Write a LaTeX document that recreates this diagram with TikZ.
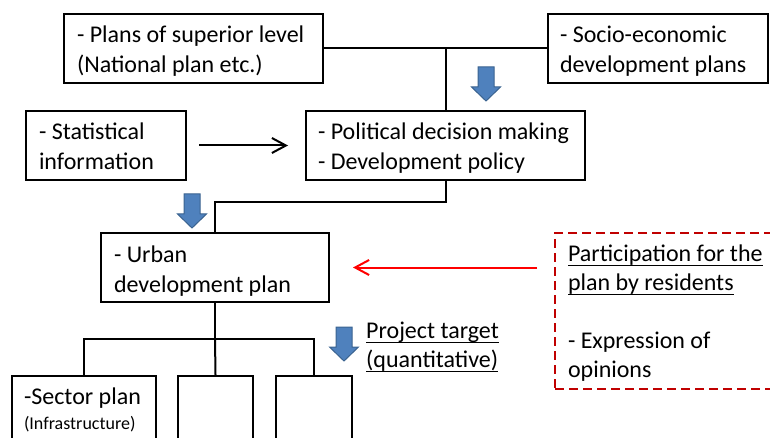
\documentclass[tikz,border=0pt]{standalone}
\usepackage{fontspec}
\setmainfont{Carlito}
\usetikzlibrary{arrows.meta}

\definecolor{arrowblue}{HTML}{4F81BD}
\definecolor{arrowedge}{HTML}{3A6390}
\definecolor{dashred}{HTML}{C00000}

% invisible struts fixing the first baseline and the last depth of a box
\newcommand\topstrut[1]{\leavevmode\rule{0pt}{#1}}
\newcommand\botstrut[1]{\rule[-#1]{0pt}{#1}}
% underline drawn a fixed distance below the baseline
\newsavebox\undlbox
\newcommand\undl[1]{\leavevmode\sbox\undlbox{#1}\rlap{\rule[-5pt]{\wd\undlbox}{1.3pt}}\usebox\undlbox}
% natural word spaces inside ragged nodes
\newcommand\plainspace{\spaceskip=0pt\relax\xspaceskip=0pt\relax\hyphenpenalty=10000\relax}

\tikzset{
  blockarrow/.pic={
    \path[fill=arrowblue, draw=arrowedge, line width=1pt]
      (-8,0) -- (8,0) -- (8,20) -- (14.5,20) -- (0,34) -- (-14.5,20) -- (-8,20) -- cycle;
  }
}

\begin{document}
\begin{tikzpicture}[x=1pt, y=-1pt,
  execute at begin node=\plainspace,
  box/.style={draw=black, line width=2pt, rectangle, anchor=north west,
    inner xsep=13pt, inner ysep=5pt, align=left,
    font=\fontsize{24}{30}\selectfont},
  link/.style={draw=black, line width=2pt},
  tip/.style={-{Straight Barb[length=14pt,width=15pt]}}]

\useasboundingbox (0,0) rectangle (770,438);
\clip (0,0) rectangle (770,438);

% upper level
\node[box, text width=233pt] (superior) at (63,13)
  {\topstrut{24pt}- Plans of superior level\\(National plan etc.)\botstrut{5pt}};
\node[box, inner xsep=12pt, text width=196pt] (socio) at (547,13)
  {\topstrut{24pt}- Socio-economic\\development plans\botstrut{5pt}};

% decision level
\node[box, text width=134pt] (statinfo) at (25,110)
  {\topstrut{24pt}- Statistical\\information\botstrut{5pt}};
\node[box, inner xsep=12pt, text width=255pt] (political) at (305,110)
  {\topstrut{24pt}- Political decision making\\- Development policy\botstrut{5pt}};

% urban plan
\node[box, text width=202pt] (urban) at (100,232)
  {\topstrut{24pt}- Urban\\development plan\botstrut{5pt}};

% residents' participation
\node[box, draw=dashred, dash pattern=on 9pt off 5pt, text width=250pt,
      font=\fontsize{24}{29}\selectfont] (residents) at (554,232)
  {\topstrut{23pt}\undl{Participation for the}\\\undl{plan by residents}\\\mbox{}\\- Expression of\\opinions\botstrut{7pt}};

% sector plans
\node[box, inner xsep=12pt, text width=120pt] (sectorA) at (11,375)
  {\topstrut{23pt}-Sector plan\\[-5pt]{\fontsize{18}{22}\selectfont(Infrastructure)}\botstrut{70pt}};
\node[box, inner sep=0pt, minimum width=75pt, minimum height=100pt] (sectorB) at (177,375) {};
\node[box, inner sep=0pt, minimum width=76pt, minimum height=100pt] (sectorC) at (275,375) {};

\node[anchor=north west, inner sep=0pt, align=left,
      font=\fontsize{24}{29}\selectfont] (target) at (366,318)
  {\topstrut{20pt}\undl{Project target}\\\undl{(quantitative)}};

% connectors
\draw[link] (superior.east) -- (superior.east -| socio.west);
\draw[link] (political.north) -- (political.north |- superior.east);
\draw[link] (political.south) -- ++(0,21) -| (urban.north);
\path (urban.south) ++(0,36) coordinate (fork);
\draw[link] (urban.south) -- (fork);
\draw[link] (sectorA.north) |- (fork) -| (sectorC.north);
\draw[link] (fork) -- (sectorB.north);

\draw[link, tip, shorten <=12pt, shorten >=17pt] (statinfo.east) -- (political.west);
\draw[link, draw=red, tip, shorten <=17pt, shorten >=23pt]
  (urban.east -| residents.west) -- (urban.east);

% flow arrows
\pic (flowA) at (486,67) {blockarrow};
\pic (flowB) at (192,194) {blockarrow};
\pic (flowC) at (344,327) {blockarrow};

\end{tikzpicture}
\end{document}
